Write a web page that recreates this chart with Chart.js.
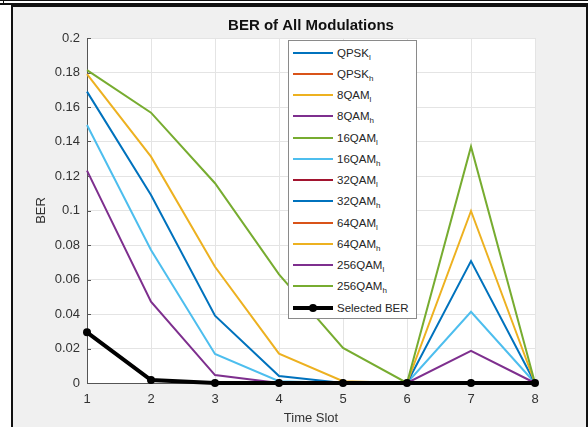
<!DOCTYPE html>
<html>
<head>
<meta charset="utf-8">
<script src="https://cdn.jsdelivr.net/npm/chart.js@4.4.0/dist/chart.umd.min.js"></script>
<style>
  body { margin: 0; width: 588px; height: 427px; background: #fff; position: relative; overflow: hidden;
         font-family: "Liberation Sans", Arial, sans-serif; }
  .ln { position: absolute; background: #111; }
  #fig { position: absolute; left: 11px; top: 5px; width: 573px; height: 430px; background: #f0f0f0;
         border: 2px solid #111; border-bottom: none; }
  #chart { position: absolute; left: 0; top: 0; }
  #legend { position: absolute; left: 288px; top: 40px; width: 127px; height: 276px; background: #fff;
            border: 1px solid #8a8a8a; padding-top: 1px; box-sizing: content-box; }
  #legend .row { position: relative; height: 21.25px; display: flex; align-items: center; }
  #legend .sw { position: relative; display: inline-block; width: 40px; margin-left: 4px; }
  #legend .dot { position: absolute; left: 16px; top: 50%; width: 8px; height: 8px; margin-top: -4px;
                 border-radius: 50%; background: #000; }
  #legend .txt { margin-left: 4px; font-size: 11.5px; color: #262626; white-space: nowrap; }
  #legend sub { font-size: 8px; vertical-align: -3px; line-height: 0; }
</style>
</head>
<body>
<div class="ln" style="left:0;top:0;width:588px;height:1px"></div>
<div class="ln" style="left:0;top:3px;width:588px;height:2px"></div>
<div class="ln" style="left:3px;top:0;width:1px;height:5px"></div>
<div id="fig"></div>
<canvas id="chart" width="588" height="427"></canvas>
<div id="legend"></div>
<script>
// data
const timeSlots = ['1', '2', '3', '4', '5', '6', '7', '8'];
const yTicks = [0, 0.02, 0.04, 0.06, 0.08, 0.1, 0.12, 0.14, 0.16, 0.18, 0.2];
const yTickLabels = ['0', '0.02', '0.04', '0.06', '0.08', '0.1', '0.12', '0.14', '0.16', '0.18', '0.2'];

const seriesNames = ['QPSK_l', 'QPSK_h', '8QAM_l', '8QAM_h', '16QAM_l', '16QAM_h',
                     '32QAM_l', '32QAM_h', '64QAM_l', '64QAM_h', '256QAM_l', '256QAM_h'];

// the low order curves sit under the thick "Selected BER" line
const qpskL    = [0.0294, 0.0017, 0, 0, 0, 0, 0, 0];
const qpskH    = [0.0294, 0.0017, 0, 0, 0, 0, 0, 0];
const qam8L    = [0.0294, 0.0017, 0, 0, 0, 0, 0, 0];
const qam8H    = [0.0294, 0.0017, 0, 0, 0, 0, 0, 0];
const qam16L   = [0.0294, 0.0017, 0, 0, 0, 0, 0, 0];
const qam16H   = [0.1496, 0.0771, 0.0168, 0.001, 0, 0, 0.0413, 0];
const qam32L   = [0.0294, 0.0017, 0, 0, 0, 0, 0, 0];
const qam32H   = [0.1689, 0.109, 0.039, 0.004, 0, 0, 0.0707, 0];
const qam64L   = [0.0294, 0.0017, 0, 0, 0, 0, 0, 0];
const qam64H   = [0.179, 0.1312, 0.0674, 0.0170, 0.001, 0, 0.0997, 0];
const qam256L  = [0.1231, 0.0471, 0.0046, 0, 0, 0, 0.0186, 0];
const qam256H  = [0.1814, 0.1567, 0.1158, 0.063, 0.0203, 0, 0.137, 0];
const selectedBER = [0.0294, 0.0017, 0, 0, 0, 0, 0, 0];

const seriesValues = [qpskL, qpskH, qam8L, qam8H, qam16L, qam16H,
                      qam32L, qam32H, qam64L, qam64H, qam256L, qam256H];

const matlabColors = ['#0072BD', '#D95319', '#EDB120', '#7E2F8E', '#77AC30', '#4DBEEE', '#A2142F'];

Chart.defaults.font.family = '"Liberation Sans", Arial, sans-serif';

// white plot box, like matlab axes
const plotBg = {
  id: 'plotBg',
  beforeDraw(chart) {
    const { ctx, chartArea: a } = chart;
    ctx.save();
    ctx.fillStyle = '#fff';
    ctx.fillRect(a.left, a.top, a.right - a.left, a.bottom - a.top);
    ctx.restore();
  }
};

// short inward tick marks
const innerTicks = {
  id: 'innerTicks',
  beforeDatasetsDraw(chart) {
    const { ctx, chartArea: a, scales } = chart;
    ctx.save();
    ctx.strokeStyle = '#555';
    ctx.lineWidth = 1;
    ctx.beginPath();
    scales.y.ticks.forEach(t => {
      const y = Math.round(scales.y.getPixelForValue(t.value)) + 0.5;
      ctx.moveTo(a.left, y);
      ctx.lineTo(a.left + 4, y);
    });
    timeSlots.forEach((s, i) => {
      const x = Math.round(scales.x.getPixelForValue(i)) + 0.5;
      ctx.moveTo(x, a.bottom);
      ctx.lineTo(x, a.bottom - 4);
    });
    ctx.stroke();
    ctx.restore();
  }
};

var datasets = seriesValues.map((vals, i) => ({
  label: seriesNames[i],
  data: vals,
  borderColor: matlabColors[i % matlabColors.length],
  backgroundColor: matlabColors[i % matlabColors.length],
  borderWidth: 2,
  pointRadius: 0,
  tension: 0,
  clip: false,
  order: 13 - i   // later series on top, like matlab
}));

datasets.push({
  label: 'Selected BER',
  data: selectedBER,
  borderColor: '#000',
  backgroundColor: '#000',
  borderWidth: 4,
  pointRadius: 4,
  pointBorderWidth: 0,
  pointBackgroundColor: '#000',
  tension: 0,
  clip: false,
  order: 0
});

var chart = new Chart(document.getElementById('chart'), {
  type: 'line',
  data: { labels: timeSlots, datasets: datasets },
  options: {
    responsive: false,
    animation: false,
    devicePixelRatio: 1,
    layout: { padding: { left: 0, right: 53, top: 0, bottom: 0 } },
    plugins: {
      legend: { display: false },
      tooltip: { enabled: false },
      title: {
        display: true,
        text: 'BER of All Modulations',
        fullSize: false,
        color: '#111',
        font: { size: 15, weight: 'bold' },
        padding: { top: 17, bottom: 3 }
      }
    },
    scales: {
      x: {
        type: 'category',
        offset: false,
        grid: { color: '#e4e4e4', drawTicks: false },
        border: { color: '#555', width: 1 },
        ticks: { color: '#333', font: { size: 13 }, padding: 9, maxRotation: 0, autoSkip: false },
        title: { display: true, text: 'Time Slot', color: '#333', font: { size: 13 }, padding: { top: 0, bottom: 1 } },
        afterFit: s => { s.height = 44; }
      },
      y: {
        min: 0,
        max: 0.2,
        afterBuildTicks: s => { s.ticks = yTicks.map(v => ({ value: v })); },
        grid: { color: '#e4e4e4', drawTicks: false },
        border: { color: '#555', width: 1 },
        ticks: { color: '#333', font: { size: 13 }, padding: 7, callback: (v, i) => yTickLabels[i] },
        title: { display: true, text: 'BER', color: '#333', font: { size: 13 }, padding: { top: 34, bottom: 0 } },
        afterFit: s => { s.width = 87; }
      }
    }
  },
  plugins: [plotBg, innerTicks]
});

// matlab style legend inside the axes
const legendBox = document.getElementById('legend');
chart.data.datasets.forEach(ds => {
  const row = document.createElement('div');
  row.className = 'row';
  const sw = document.createElement('span');
  sw.className = 'sw';
  sw.style.height = ds.borderWidth + 'px';
  sw.style.background = ds.borderColor;
  if (ds.pointRadius > 0) {
    const dot = document.createElement('span');
    dot.className = 'dot';
    sw.appendChild(dot);
  }
  const txt = document.createElement('span');
  txt.className = 'txt';
  const parts = ds.label.split('_');
  txt.innerHTML = parts[0] + (parts[1] ? '<sub>' + parts[1] + '</sub>' : '');
  row.appendChild(sw);
  row.appendChild(txt);
  legendBox.appendChild(row);
});
</script>
</body>
</html>
